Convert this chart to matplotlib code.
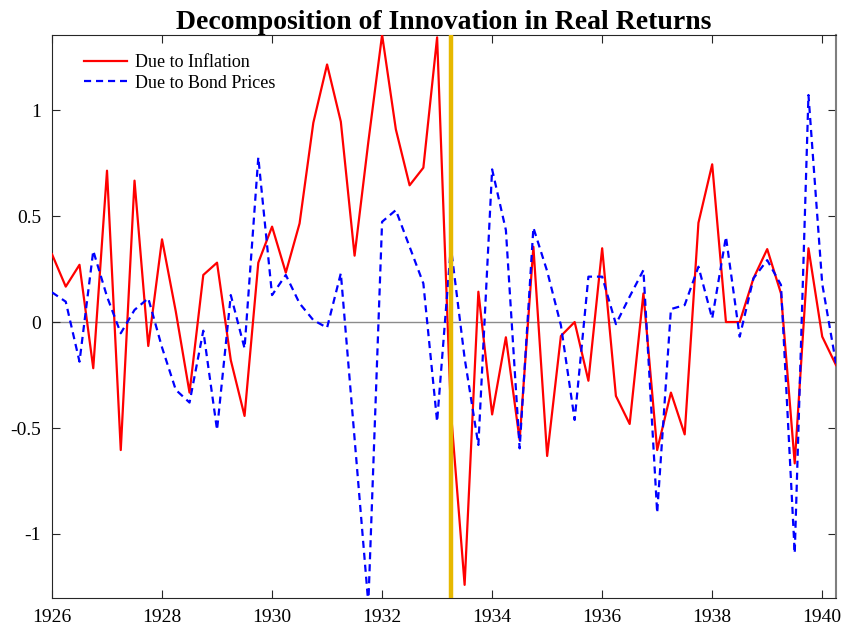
import numpy as np
import matplotlib
matplotlib.use("Agg")
import matplotlib.pyplot as plt

plt.rcParams['font.family'] = ['Liberation Serif', 'DejaVu Serif']

# quarterly dates 1926.00 ... 1940.25
years = np.arange(1926.0, 1940.26, 0.25)

inflation = [
    0.32, 0.167, 0.27, -0.218,
    0.714, -0.604, 0.667, -0.113,
    0.39, 0.05, -0.333, 0.222,
    0.28, -0.18, -0.443, 0.28,
    0.45, 0.233, 0.465, 0.94,
    1.215, 0.945, 0.313, 0.85,
    1.355, 0.909, 0.645, 0.728,
    1.343, -0.42, -1.24, 0.143,
    -0.436, -0.072, -0.557, 0.355,
    -0.632, -0.066, 0.0, -0.277,
    0.348, -0.349, -0.481, 0.135,
    -0.604, -0.333, -0.53, 0.468,
    0.744, 0.0, 0.0, 0.206,
    0.344, 0.135, -0.667, 0.348,
    -0.069, -0.203,
]

bond_prices = [
    0.14, 0.096, -0.187, 0.336,
    0.12, -0.053, 0.057, 0.112,
    -0.12, -0.32, -0.38, -0.041,
    -0.509, 0.127, -0.124, 0.777,
    0.127, 0.222, 0.088, 0.009,
    -0.027, 0.23, -0.55, -1.33,
    0.473, 0.528, 0.355, 0.182,
    -0.47, 0.355, -0.17, -0.58,
    0.72, 0.434, -0.596, 0.445,
    0.24, -0.015, -0.462, 0.214,
    0.214, -0.01, 0.12, 0.245,
    -0.9, 0.061, 0.08, 0.261,
    0.017, 0.402, -0.069, 0.206,
    0.292, 0.175, -1.091, 1.071,
    0.18, -0.195,
]

event_year = 1933.25
xticks = [1926, 1928, 1930, 1932, 1934, 1936, 1938, 1940]
yticks = [-1, -0.5, 0, 0.5, 1]
ytick_labels = ['-1', '-0.5', '0', '0.5', '1']

fig = plt.figure(figsize=(8.44, 6.31), dpi=100)
ax = fig.add_axes([0.0616, 0.0523, 0.9289, 0.8922])

ax.axhline(0, color='#8c8c8c', lw=1.0, zorder=1)
ax.plot(years, inflation, color='#ff0000', lw=1.6, label='Due to Inflation', zorder=3)
ax.plot(years, bond_prices, color='#0000ff', lw=1.6, ls=(0, (3.2, 2.2)),
        label='Due to Bond Prices', zorder=3)
ax.axvline(event_year, color='#e6b800', lw=3.2, zorder=4)

ax.set_xlim(1926, 1940.25)
ax.set_ylim(-1.302, 1.354)
ax.set_xticks(xticks)
ax.set_xticklabels([str(x) for x in xticks])
ax.set_yticks(yticks)
ax.set_yticklabels(ytick_labels)

ax.tick_params(direction='in', top=True, right=True, length=6, width=0.8,
               labelsize=14, colors='#262626', labelcolor='black', pad=8)
for side in ['left', 'bottom', 'top']:
    ax.spines[side].set_color('#262626')
    ax.spines[side].set_linewidth(0.8)
ax.spines['right'].set_color('#7f7f7f')
ax.spines['right'].set_linewidth(1.5)

ax.set_title('Decomposition of Innovation in Real Returns', fontsize=20,
             fontweight='bold', pad=4)

ax.legend(loc='upper left', bbox_to_anchor=(0.02, 0.995), frameon=False,
          fontsize=13, handlelength=2.4, handletextpad=0.45, labelspacing=0.2)

fig.savefig('out.png', dpi=100)
